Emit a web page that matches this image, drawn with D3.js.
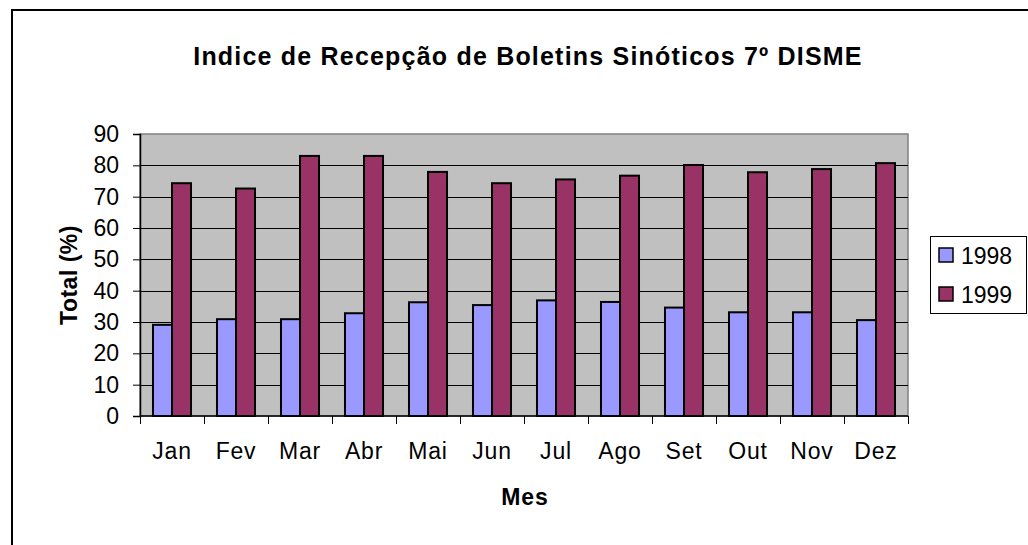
<!DOCTYPE html>
<html>
<head>
<meta charset="utf-8">
<title>Indice de Recepção de Boletins Sinóticos</title>
<script src="https://d3js.org/d3.v7.min.js"></script>
<style>
  body { margin: 0; background: #fff; }
  svg { display: block; font-family: Arial, "Liberation Sans", sans-serif; }
</style>
</head>
<body>
<svg width="1028" height="545"></svg>
<script>
// data
var months = ["Jan", "Fev", "Mar", "Abr", "Mai", "Jun", "Jul", "Ago", "Set", "Out", "Nov", "Dez"];
var series = ["1998", "1999"];
var values1998 = [29.1, 30.9, 30.9, 32.8, 36.3, 35.4, 36.9, 36.4, 34.6, 33.1, 33.1, 30.6];
var values1999 = [74.3, 72.6, 83.0, 83.0, 77.9, 74.3, 75.5, 76.7, 80.1, 77.8, 78.8, 80.7];
var yTicks = [0, 10, 20, 30, 40, 50, 60, 70, 80, 90];
var colors = ["#9999FF", "#993366"];

var svg = d3.select("svg");
var plotLeft = 140, plotRight = 908, plotTop = 134, plotBottom = 416;

// outer chart border
svg.append("rect")
  .attr("x", 12).attr("y", 10)
  .attr("width", 1040).attr("height", 560)
  .attr("fill", "none").attr("stroke", "#000").attr("stroke-width", 2);

svg.append("text")
  .attr("x", 528).attr("y", 65)
  .attr("text-anchor", "middle")
  .attr("font-size", "25px").attr("font-weight", "bold")
  .attr("letter-spacing", "1.2px")
  .text("Indice de Recepção de Boletins Sinóticos 7º DISME");

var y = d3.scaleLinear().domain([0, 90]).range([plotBottom, plotTop]);
var x0 = d3.scaleBand().domain(months).range([plotLeft, plotRight])
  .paddingInner(0.406).paddingOuter(0.203);
var x1 = d3.scaleBand().domain(series).range([0, x0.bandwidth()]);

// plot area
svg.append("rect")
  .attr("x", plotLeft).attr("y", plotTop)
  .attr("width", plotRight - plotLeft).attr("height", plotBottom - plotTop)
  .attr("fill", "#C0C0C0").attr("stroke", "#808080").attr("stroke-width", 1.5);

// gridlines
svg.append("g").selectAll("line")
  .data(yTicks.filter(function(d) { return d > 0 && d < 90; }))
  .enter().append("line")
  .attr("x1", plotLeft).attr("x2", plotRight)
  .attr("y1", function(d) { return Math.round(y(d)) + 0.5; })
  .attr("y2", function(d) { return Math.round(y(d)) + 0.5; })
  .attr("stroke", "#000").attr("stroke-width", 1);

// bars
var rows = months.map(function(m, i) { return { month: m, v: [values1998[i], values1999[i]] }; });
var groups = svg.append("g").selectAll("g")
  .data(rows).enter().append("g")
  .attr("transform", function(d) { return "translate(" + x0(d.month) + ",0)"; });
groups.selectAll("rect")
  .data(function(d) { return d.v.map(function(v, i) { return { key: series[i], value: v, i: i }; }); })
  .enter().append("rect")
  .attr("x", function(d) { return x1(d.key); })
  .attr("y", function(d) { return y(d.value); })
  .attr("width", x1.bandwidth())
  .attr("height", function(d) { return plotBottom - y(d.value); })
  .attr("fill", function(d) { return colors[d.i]; })
  .attr("stroke", "#000").attr("stroke-width", 2);

// y axis
var yAxis = svg.append("g")
  .attr("transform", "translate(" + plotLeft + ",0)")
  .call(d3.axisLeft(y).tickValues(yTicks).tickSize(7).tickPadding(14));
yAxis.select(".domain").attr("stroke", "#000").attr("stroke-width", 1.5);
yAxis.selectAll("line").attr("stroke", "#000");
yAxis.selectAll("text").attr("font-size", "23px").attr("font-family", "Arial, 'Liberation Sans', sans-serif").attr("fill", "#000");

// x axis: labels at band centers, ticks at category boundaries
var xAxis = svg.append("g")
  .attr("transform", "translate(0," + plotBottom + ")")
  .call(d3.axisBottom(x0).tickSize(0).tickPadding(27));
xAxis.select(".domain").remove();
xAxis.selectAll("text").attr("font-size", "23px").attr("letter-spacing", "0.8px")
  .attr("font-family", "Arial, 'Liberation Sans', sans-serif").attr("fill", "#000");
svg.append("line")
  .attr("x1", plotLeft).attr("x2", plotRight)
  .attr("y1", plotBottom).attr("y2", plotBottom)
  .attr("stroke", "#000").attr("stroke-width", 1.5);
var half = x0.step() * x0.paddingInner() / 2;
var bounds = months.map(function(m) { return x0(m) - half; })
  .concat([x0(months[months.length - 1]) + x0.bandwidth() + half]);
svg.append("g").selectAll("line")
  .data(bounds).enter().append("line")
  .attr("x1", function(d) { return Math.round(d) + 0.5; })
  .attr("x2", function(d) { return Math.round(d) + 0.5; })
  .attr("y1", plotBottom).attr("y2", plotBottom + 8)
  .attr("stroke", "#000").attr("stroke-width", 1);

// axis titles
svg.append("text")
  .attr("x", (plotLeft + plotRight) / 2 + 1).attr("y", 505)
  .attr("text-anchor", "middle")
  .attr("font-size", "23px").attr("font-weight", "bold").attr("letter-spacing", "1px")
  .text("Mes");
svg.append("text")
  .attr("transform", "translate(77," + ((plotTop + plotBottom) / 2) + ") rotate(-90)")
  .attr("text-anchor", "middle")
  .attr("font-size", "23px").attr("font-weight", "bold").attr("letter-spacing", "0.5px")
  .text("Total (%)");

// legend
var legend = svg.append("g");
legend.append("rect")
  .attr("x", 930.5).attr("y", 236.5)
  .attr("width", 96).attr("height", 77)
  .attr("fill", "#fff").attr("stroke", "#000").attr("stroke-width", 1);
var items = legend.selectAll("g.item")
  .data(series).enter().append("g")
  .attr("class", "item")
  .attr("transform", function(d, i) { return "translate(939," + (248 + i * 39) + ")"; });
items.append("rect")
  .attr("width", 14).attr("height", 14)
  .attr("fill", function(d, i) { return colors[i]; })
  .attr("stroke", "#000").attr("stroke-width", 1.5);
items.append("text")
  .attr("x", 22).attr("y", 16)
  .attr("font-size", "23px")
  .text(function(d) { return d; });
</script>
</body>
</html>
